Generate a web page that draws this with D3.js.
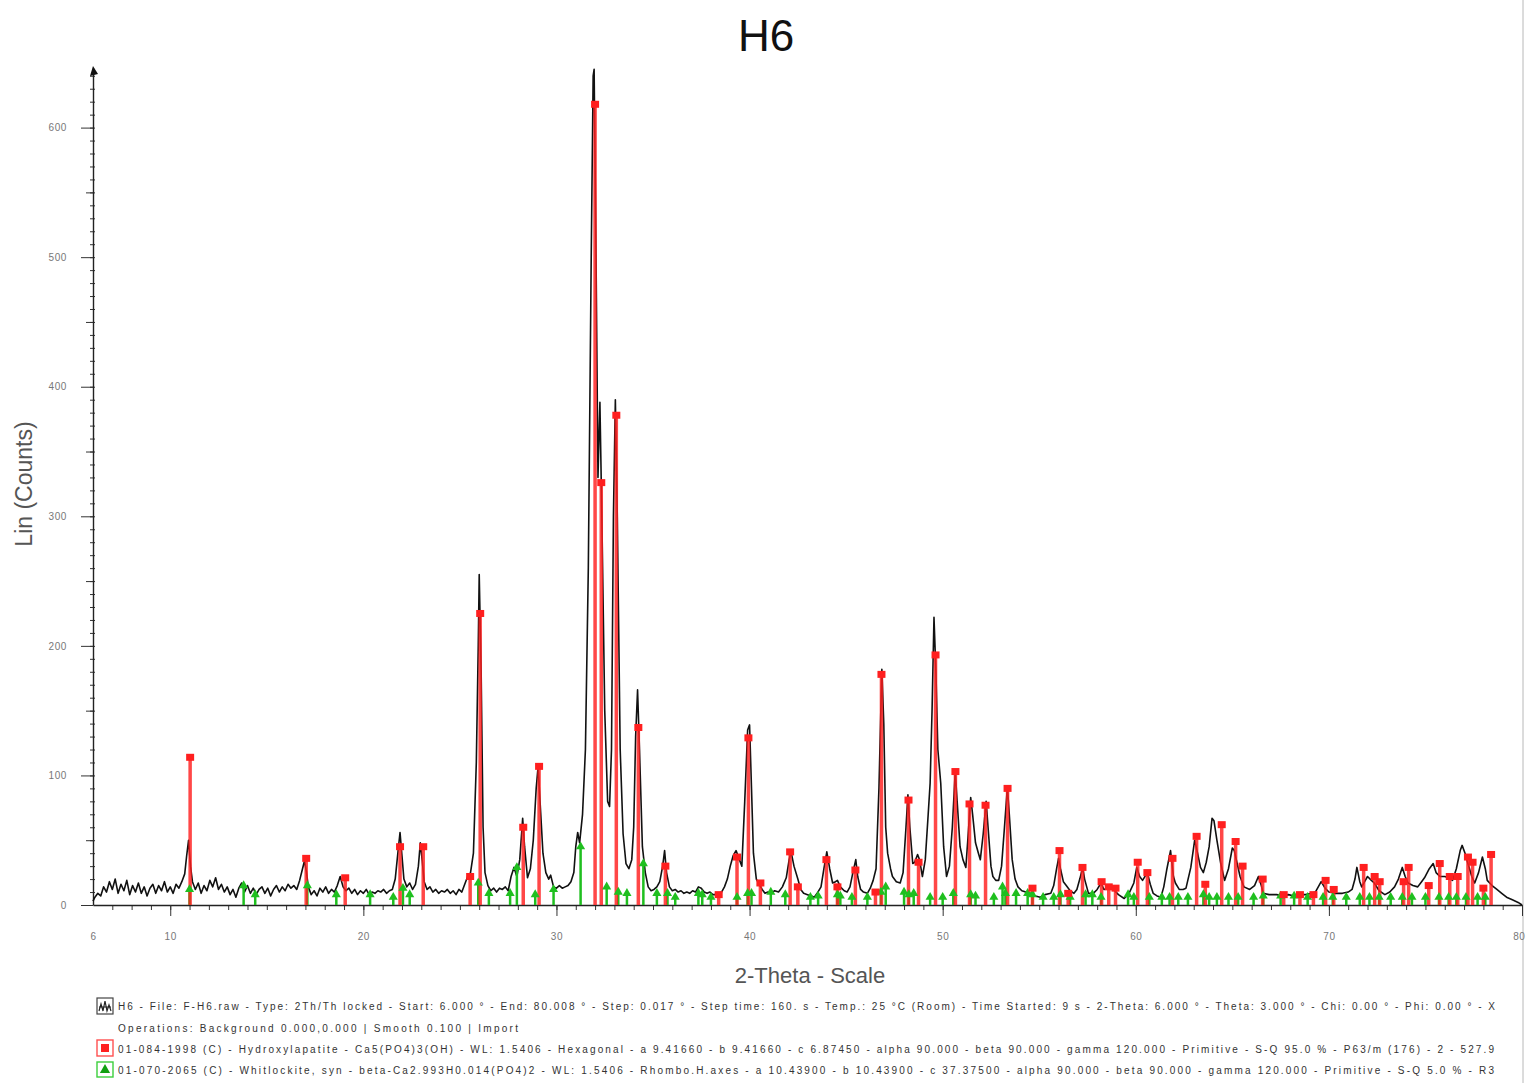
<!DOCTYPE html>
<html>
<head>
<meta charset="utf-8">
<title>H6</title>
<script src="https://cdn.jsdelivr.net/npm/d3@7"></script>
<style>
    body { margin: 0; background: #fff; }
    svg { display: block; font-family: "Liberation Sans", Arial, sans-serif; }
</style>
</head>
<body>
<div id="chart-area"></div>
<script>
// measured pattern, [2-theta, counts]
var trace = [
    [6.0,3],[6.1,6],[6.25,9],[6.4,7],[6.55,14],[6.7,10],[6.85,18],[7.0,12],[7.15,20],[7.3,9],[7.45,16],[7.6,11],
    [7.75,19],[7.9,8],[8.05,15],[8.2,10],[8.35,17],[8.5,9],[8.65,14],[8.8,7],[8.95,13],[9.1,16],[9.25,9],[9.4,15],
    [9.55,11],[9.7,18],[9.85,10],[10.0,14],[10.15,9],[10.3,16],[10.45,13],[10.6,18],[10.75,24],[10.85,38],[10.95,50],
    [11.05,30],[11.15,18],[11.3,12],[11.45,17],[11.6,9],[11.75,15],[11.9,11],[12.05,19],[12.2,14],[12.35,21],[12.5,12],
    [12.65,16],[12.8,10],[12.95,14],[13.1,8],[13.25,12],[13.4,6],[13.55,13],[13.7,17],[13.85,10],[14.0,15],[14.15,9],
    [14.3,13],[14.45,8],[14.6,12],[14.75,14],[14.9,9],[15.05,13],[15.2,7],[15.35,12],[15.5,15],[15.65,10],[15.8,14],
    [15.95,11],[16.1,16],[16.25,13],[16.4,15],[16.55,12],[16.7,19],[16.85,28],[16.95,34],[17.05,26],[17.15,14],[17.3,8],
    [17.45,11],[17.6,7],[17.75,13],[17.9,10],[18.05,14],[18.2,9],[18.35,12],[18.5,10],[18.65,15],[18.8,22],[18.95,14],
    [19.1,11],[19.25,13],[19.4,9],[19.55,12],[19.7,8],[19.85,11],[20.0,9],[20.15,12],[20.3,8],[20.45,10],[20.6,9],
    [20.75,11],[20.9,10],[21.05,12],[21.2,9],[21.35,11],[21.5,12],[21.65,20],[21.8,42],[21.9,56],[22.0,38],[22.1,20],
    [22.25,14],[22.4,17],[22.55,12],[22.7,16],[22.85,30],[22.95,48],[23.05,34],[23.15,18],[23.3,12],[23.45,14],[23.6,10],
    [23.75,12],[23.9,9],[24.05,11],[24.2,10],[24.35,12],[24.5,9],[24.65,11],[24.8,8],[24.95,12],[25.1,10],[25.25,16],
    [25.4,22],[25.55,25],[25.7,40],[25.85,110],[25.95,200],[26.0,255],[26.1,180],[26.2,60],[26.3,25],[26.45,15],[26.6,11],
    [26.75,13],[26.9,10],[27.05,13],[27.2,12],[27.35,14],[27.5,11],[27.65,22],[27.8,29],[27.95,22],[28.1,35],[28.25,67],
    [28.35,45],[28.5,21],[28.65,28],[28.8,50],[28.95,90],[29.05,107],[29.15,80],[29.3,40],[29.45,25],[29.6,20],[29.7,23],
    [29.85,14],[30.0,13],[30.15,15],[30.3,13],[30.45,14],[30.6,15],[30.75,18],[30.9,25],[31.0,45],[31.1,56],[31.2,48],
    [31.35,70],[31.5,120],[31.65,260],[31.8,500],[31.9,640],[31.95,645],[32.05,500],[32.15,330],[32.25,388],[32.35,300],
    [32.5,150],[32.65,80],[32.75,76],[32.85,120],[32.95,300],[33.05,390],[33.15,300],[33.3,120],[33.45,55],[33.6,32],
    [33.75,28],[33.9,35],[34.0,60],[34.1,130],[34.2,166],[34.3,120],[34.45,45],[34.6,25],[34.75,14],[34.9,11],[35.05,12],
    [35.2,14],[35.35,18],[35.5,30],[35.6,42],[35.7,25],[35.85,14],[36.0,11],[36.15,12],[36.3,10],[36.45,11],[36.6,9],
    [36.75,10],[36.9,9],[37.05,11],[37.2,10],[37.35,14],[37.5,13],[37.65,10],[37.8,9],[37.95,10],[38.1,8],[38.25,8],
    [38.4,9],[38.55,10],[38.7,14],[38.85,20],[39.0,30],[39.15,38],[39.3,42],[39.45,36],[39.6,30],[39.75,80],[39.9,135],
    [40.0,139],[40.1,90],[40.2,40],[40.35,20],[40.5,16],[40.65,12],[40.8,9],[40.95,10],[41.1,9],[41.3,11],[41.5,10],
    [41.7,14],[41.9,21],[42.05,35],[42.15,41],[42.3,30],[42.5,20],[42.65,12],[42.8,9],[43.0,8],[43.2,7],[43.35,6],
    [43.5,9],[43.7,14],[43.85,28],[44.0,41],[44.15,28],[44.3,17],[44.45,18],[44.55,19],[44.7,14],[44.9,11],[45.05,10],
    [45.2,14],[45.35,25],[45.5,35],[45.6,22],[45.75,12],[45.9,10],[46.1,9],[46.25,13],[46.4,19],[46.55,28],[46.7,90],
    [46.85,182],[46.95,140],[47.05,60],[47.15,40],[47.3,28],[47.4,22],[47.6,18],[47.8,17],[47.95,25],[48.1,60],[48.2,85],
    [48.3,60],[48.45,32],[48.55,33],[48.7,39],[48.8,35],[48.95,22],[49.1,35],[49.25,70],[49.35,94],[49.45,150],[49.55,222],
    [49.65,180],[49.75,120],[49.9,94],[50.05,45],[50.2,22],[50.35,30],[50.5,60],[50.65,103],[50.75,80],[50.9,45],[51.05,35],
    [51.2,29],[51.3,50],[51.45,83],[51.55,70],[51.7,48],[51.85,40],[51.95,35],[52.1,55],[52.25,80],[52.35,60],[52.5,30],
    [52.6,22],[52.75,19],[52.9,19],[53.05,30],[53.2,60],[53.35,91],[53.45,70],[53.6,35],[53.75,20],[53.9,14],[54.1,11],
    [54.3,10],[54.55,9],[54.8,7],[55.05,6],[55.3,8],[55.6,9],[55.75,15],[55.9,28],[56.0,36],[56.1,28],[56.25,18],[56.4,15],
    [56.6,11],[56.8,9],[56.95,12],[57.1,20],[57.25,29],[57.35,20],[57.55,9],[57.8,9],[58.0,12],[58.2,17],[58.35,12],
    [58.6,13],[58.85,12],[59.1,8],[59.4,5],[59.65,9],[59.9,17],[60.05,29],[60.2,22],[60.35,19],[60.6,25],[60.75,16],
    [60.9,9],[61.1,7],[61.3,6],[61.45,14],[61.6,27],[61.8,42],[61.95,22],[62.05,17],[62.25,12],[62.45,12],[62.6,13],
    [62.85,29],[63.05,50],[63.2,40],[63.35,29],[63.5,25],[63.65,33],[63.8,45],[63.95,67],[64.05,65],[64.2,50],[64.4,32],
    [64.6,19],[64.8,28],[65.0,44],[65.1,42],[65.25,32],[65.4,22],[65.6,14],[65.9,12],[66.15,15],[66.35,22],[66.5,15],
    [66.6,9],[66.9,8],[67.3,8],[67.6,7],[67.9,8],[68.2,7],[68.5,8],[68.8,8],[69.1,9],[69.3,10],[69.6,18],[69.8,13],
    [70.0,10],[70.3,9],[70.7,9],[71.0,10],[71.2,12],[71.35,20],[71.45,29],[71.6,18],[71.7,14],[71.85,18],[72.0,22],
    [72.2,19],[72.35,17],[72.6,11],[72.9,8],[73.15,10],[73.4,14],[73.6,20],[73.8,29],[73.95,22],[74.1,17],[74.35,15],
    [74.6,14],[74.8,18],[74.95,21],[75.2,28],[75.4,32],[75.55,25],[75.75,22],[76.0,22],[76.2,21],[76.4,19],[76.6,28],
    [76.8,42],[76.9,46],[77.05,40],[77.2,32],[77.4,22],[77.55,17],[77.75,25],[77.95,37],[78.1,28],[78.2,19],[78.45,15],
    [78.7,12],[78.95,9],[79.2,6],[79.5,4],[79.8,2],[80.0,0]
];

// 01-084-1998 Hydroxylapatite sticks, [2-theta, counts]
var hapPeaks = [
    [11.03,114],[17.04,36],[19.06,21],[21.9,45],[23.1,45],[25.53,22],[26.05,225],[28.28,60],[29.1,107],[32.0,618],
    [32.32,326],[33.1,378],[34.24,137],[35.64,30],[38.4,8],[39.35,37],[39.94,129],[40.56,17],[42.1,41],[42.5,14],
    [43.98,35],[44.55,14],[45.48,27],[46.52,10],[46.83,178],[48.23,81],[48.75,33],[49.63,193],[50.66,103],[51.39,78],
    [52.22,77],[53.36,90],[54.65,13],[56.05,42],[56.5,9],[57.24,29],[58.23,18],[58.6,14],[58.95,13],[60.1,33],[60.6,25],
    [61.9,36],[63.15,53],[63.6,16],[64.45,62],[65.17,49],[65.53,30],[66.57,20],[67.66,8],[68.5,8],[69.2,8],[69.83,19],
    [70.25,12],[71.8,29],[72.37,22],[72.63,18],[73.87,18],[74.13,29],[75.17,15],[75.74,32],[76.26,22],[76.67,22],
    [77.2,37],[77.44,33],[78.0,13],[78.4,39]
];

// 01-070-2065 Whitlockite sticks, [2-theta, counts]
var whitPeaks = [
    [11.0,12],[13.8,15],[14.4,8],[17.1,15],[18.6,8],[20.35,8],[21.55,6],[22.05,13],[22.4,8],[25.95,17],[26.5,9],[27.6,9],
    [27.95,29],[28.9,8],[29.85,12],[31.25,45],[32.6,14],[33.2,10],[33.65,9],[34.5,32],[35.2,9],[35.75,9],[36.15,6],
    [37.35,9],[37.55,8],[38.0,6],[39.35,6],[39.9,9],[40.1,9],[41.1,10],[41.85,8],[43.15,6],[43.55,7],[44.55,8],[44.7,7],
    [45.3,6],[46.1,6],[46.8,10],[47.05,14],[48.0,10],[48.25,8],[48.5,9],[49.35,6],[50.0,6],[50.55,9],[51.45,8],[51.7,7],
    [52.65,6],[53.1,14],[53.25,9],[53.8,9],[54.4,9],[54.65,8],[55.2,6],[55.75,6],[56.1,8],[56.6,6],[57.4,8],[57.75,8],
    [58.2,6],[59.6,8],[59.9,6],[60.7,6],[61.35,6],[61.75,6],[62.2,6],[62.7,6],[63.5,8],[63.8,6],[64.2,6],[64.8,6],
    [65.3,6],[66.1,6],[66.6,7],[67.5,7],[68.2,7],[68.9,6],[69.7,6],[70.2,6],[70.9,6],[71.6,6],[72.1,6],[72.6,6],
    [73.2,6],[73.8,6],[74.3,6],[75.0,6],[75.7,6],[76.2,6],[76.6,6],[77.1,6],[77.7,6],[78.1,6]
];

var xLabels = [6, 10, 20, 30, 40, 50, 60, 70, 80];
var yLabels = [0, 100, 200, 300, 400, 500, 600];

var legendText = [
    "H6 - File: F-H6.raw - Type: 2Th/Th locked - Start: 6.000 \u00b0 - End: 80.008 \u00b0 - Step: 0.017 \u00b0 - Step time: 160. s - Temp.: 25 \u00b0C (Room) - Time Started: 9 s - 2-Theta: 6.000 \u00b0 - Theta: 3.000 \u00b0 - Chi: 0.00 \u00b0 - Phi: 0.00 \u00b0 - X",
    "Operations: Background 0.000,0.000 | Smooth 0.100 | Import",
    "01-084-1998 (C) - Hydroxylapatite - Ca5(PO4)3(OH) - WL: 1.5406 - Hexagonal - a 9.41660 - b 9.41660 - c 6.87450 - alpha 90.000 - beta 90.000 - gamma 120.000 - Primitive - S-Q 95.0 % - P63/m (176) - 2 - 527.9",
    "01-070-2065 (C) - Whitlockite, syn - beta-Ca2.993H0.014(PO4)2 - WL: 1.5406 - Rhombo.H.axes - a 10.43900 - b 10.43900 - c 37.37500 - alpha 90.000 - beta 90.000 - gamma 120.000 - Primitive - S-Q 5.0 % - R3"
];

// Object Constructor
XrdChart = function(_parentElement, _svgWidth, _svgHeight){
    this.parentElement = _parentElement;
    this.svgWidth = _svgWidth;
    this.svgHeight = _svgHeight;

    this.initVis();
};

XrdChart.prototype.initVis = function() {
    var vis = this;

    // dimensions
    vis.margin = { left: 93, right: 4, top: 68, bottom: 178 };
    vis.bottom = vis.svgHeight - vis.margin.bottom;

    vis.svg = d3.select(vis.parentElement).append("svg")
        .attr("width", vis.svgWidth)
        .attr("height", vis.svgHeight);

    vis.x = d3.scaleLinear()
        .domain([6, 80])
        .range([vis.margin.left, vis.svgWidth - vis.margin.right]);

    // axis goes up a bit past 600
    vis.y = d3.scaleLinear()
        .domain([0, 646])
        .range([vis.bottom, vis.margin.top]);

    // frame line on the right
    vis.svg.append("line")
        .attr("x1", vis.svgWidth - 3).attr("x2", vis.svgWidth - 3)
        .attr("y1", 0).attr("y2", vis.svgHeight)
        .attr("stroke", "#b8b8b8").attr("stroke-width", 1);

    // title
    vis.svg.append("text")
        .attr("x", 766)
        .attr("y", 51)
        .attr("text-anchor", "middle")
        .attr("font-size", 44)
        .attr("fill", "#111")
        .text("H6");

    // axis labels
    vis.svg.append("text")
        .attr("transform", "translate(32,484) rotate(-90)")
        .attr("text-anchor", "middle")
        .attr("font-size", 23)
        .attr("fill", "#555")
        .text("Lin (Counts)");

    vis.svg.append("text")
        .attr("x", 810)
        .attr("y", 983)
        .attr("text-anchor", "middle")
        .attr("font-size", 22)
        .attr("fill", "#555")
        .text("2-Theta - Scale");

    vis.drawAxes();
    vis.updateVis();
    vis.drawLegend();
};

XrdChart.prototype.drawAxes = function() {
    var vis = this;

    // y ticks: minor 10s, middle 50s, major 100s
    var yMinor = vis.svg.append("g")
        .attr("transform", "translate(" + vis.margin.left + ",0)")
        .call(d3.axisLeft(vis.y).tickValues(d3.range(10, 641, 10)).tickSize(3).tickFormat(""));
    yMinor.selectAll(".tick line").attr("x2", -3).attr("x1", 2);
    yMinor.select(".domain").remove();

    var yMid = vis.svg.append("g")
        .attr("transform", "translate(" + vis.margin.left + ",0)")
        .call(d3.axisLeft(vis.y).tickValues(d3.range(50, 641, 100)).tickSize(7).tickFormat(""));
    yMid.select(".domain").remove();

    var yMajor = vis.svg.append("g")
        .attr("transform", "translate(" + vis.margin.left + ",0)")
        .call(d3.axisLeft(vis.y).tickValues(yLabels).tickSize(12).tickPadding(14).tickSizeOuter(0));
    yMajor.select(".domain").attr("stroke", "#222").attr("stroke-width", 1.4);
    yMajor.selectAll("text").attr("font-size", 10).attr("fill", "#777")
        .attr("letter-spacing", 0.6).attr("font-family", "Liberation Sans, Arial, sans-serif");

    // arrow at the top of y axis
    var top = vis.y(646);
    vis.svg.append("path")
        .attr("d", "M" + (vis.margin.left - 3) + "," + (top + 8) + "L" + vis.margin.left + "," + (top - 2) +
            "L" + (vis.margin.left + 5) + "," + (top + 6) + "Z")
        .attr("fill", "#111");

    // x ticks
    var xMinor = vis.svg.append("g")
        .attr("transform", "translate(0," + vis.bottom + ")")
        .call(d3.axisBottom(vis.x).tickValues(d3.range(7, 80, 1)).tickSize(5).tickFormat(""));
    xMinor.select(".domain").remove();

    var xMajor = vis.svg.append("g")
        .attr("transform", "translate(0," + vis.bottom + ")")
        .call(d3.axisBottom(vis.x).tickValues(d3.range(10, 81, 10)).tickSize(11).tickFormat("").tickSizeOuter(0));
    xMajor.select(".domain").attr("stroke", "#222").attr("stroke-width", 1.4);

    var xText = vis.svg.append("g")
        .attr("transform", "translate(0," + vis.bottom + ")")
        .call(d3.axisBottom(vis.x).tickValues(xLabels).tickSize(0).tickPadding(28));
    xText.select(".domain").remove();
    xText.selectAll("text").attr("font-size", 10).attr("fill", "#777")
        .attr("letter-spacing", 0.6).attr("font-family", "Liberation Sans, Arial, sans-serif");
    // last label sits against the right edge
    xText.selectAll("text").filter(function(d) { return d === 80; })
        .attr("text-anchor", "end").attr("dx", 3);

    vis.svg.selectAll(".tick line").attr("stroke", "#333");
};

XrdChart.prototype.updateVis = function() {
    var vis = this;

    // measured pattern
    vis.line = d3.line()
        .x(function(d) { return vis.x(d[0]); })
        .y(function(d) { return vis.y(d[1]); });

    vis.svg.append("path")
        .datum(trace)
        .attr("d", vis.line)
        .attr("fill", "none")
        .attr("stroke", "#111")
        .attr("stroke-width", 1.6)
        .attr("stroke-linejoin", "round");

    // whitlockite sticks
    vis.svg.append("g").selectAll("line")
        .data(whitPeaks)
        .enter().append("line")
        .attr("x1", function(d) { return vis.x(d[0]); })
        .attr("x2", function(d) { return vis.x(d[0]); })
        .attr("y1", vis.y(0))
        .attr("y2", function(d) { return vis.y(d[1]); })
        .attr("stroke", "#1fbf1f")
        .attr("stroke-width", 2.5);

    // hydroxylapatite sticks
    vis.svg.append("g").selectAll("line")
        .data(hapPeaks)
        .enter().append("line")
        .attr("x1", function(d) { return vis.x(d[0]); })
        .attr("x2", function(d) { return vis.x(d[0]); })
        .attr("y1", vis.y(0))
        .attr("y2", function(d) { return vis.y(d[1]); })
        .attr("stroke", "#ff1f1f")
        .attr("stroke-opacity", 0.82)
        .attr("stroke-width", 3.5);

    // markers on top
    vis.svg.append("g").selectAll("path")
        .data(whitPeaks)
        .enter().append("path")
        .attr("d", d3.symbol(d3.symbolTriangle).size(36))
        .attr("transform", function(d) { return "translate(" + vis.x(d[0]) + "," + vis.y(d[1]) + ")"; })
        .attr("fill", "#1fbf1f");

    vis.svg.append("g").selectAll("rect")
        .data(hapPeaks)
        .enter().append("rect")
        .attr("x", function(d) { return vis.x(d[0]) - 4; })
        .attr("y", function(d) { return vis.y(d[1]) - 3.5; })
        .attr("width", 8)
        .attr("height", 7)
        .attr("fill", "#ff1f1f");
};

XrdChart.prototype.drawLegend = function() {
    var vis = this;

    var rows = [1010, 1032, 1053, 1074];
    var widths = [1377, 400, 1376, 1376];

    vis.svg.append("g").selectAll("text")
        .data(legendText)
        .enter().append("text")
        .attr("x", 118)
        .attr("y", function(d, i) { return rows[i]; })
        .attr("textLength", function(d, i) { return widths[i]; })
        .attr("lengthAdjust", "spacing")
        .attr("font-size", 10)
        .attr("fill", "#333")
        .text(function(d) { return d; });

    // pattern icon
    var g1 = vis.svg.append("g").attr("transform", "translate(97,998)");
    g1.append("rect").attr("width", 16).attr("height", 16)
        .attr("fill", "#fff").attr("stroke", "#444").attr("stroke-width", 1.2);
    g1.append("path").attr("d", "M2,13L4,6L6,13L8,3L10,13L12,7L14,13M2,9H14")
        .attr("fill", "none").attr("stroke", "#222").attr("stroke-width", 1.2);

    // hydroxylapatite icon
    var g3 = vis.svg.append("g").attr("transform", "translate(97,1040)");
    g3.append("rect").attr("width", 16).attr("height", 16)
        .attr("fill", "#fff").attr("stroke", "#ff5050").attr("stroke-width", 1.4);
    g3.append("rect").attr("x", 4).attr("y", 4).attr("width", 8).attr("height", 8).attr("fill", "#ff1f1f");

    // whitlockite icon
    var g4 = vis.svg.append("g").attr("transform", "translate(97,1062)");
    g4.append("rect").attr("width", 16).attr("height", 15)
        .attr("fill", "#fff").attr("stroke", "#3ccf3c").attr("stroke-width", 1.4);
    g4.append("path").attr("d", d3.symbol(d3.symbolTriangle).size(45))
        .attr("transform", "translate(8,8)").attr("fill", "#10a010");
};

var chart = new XrdChart("#chart-area", 1526, 1083);
</script>
</body>
</html>
